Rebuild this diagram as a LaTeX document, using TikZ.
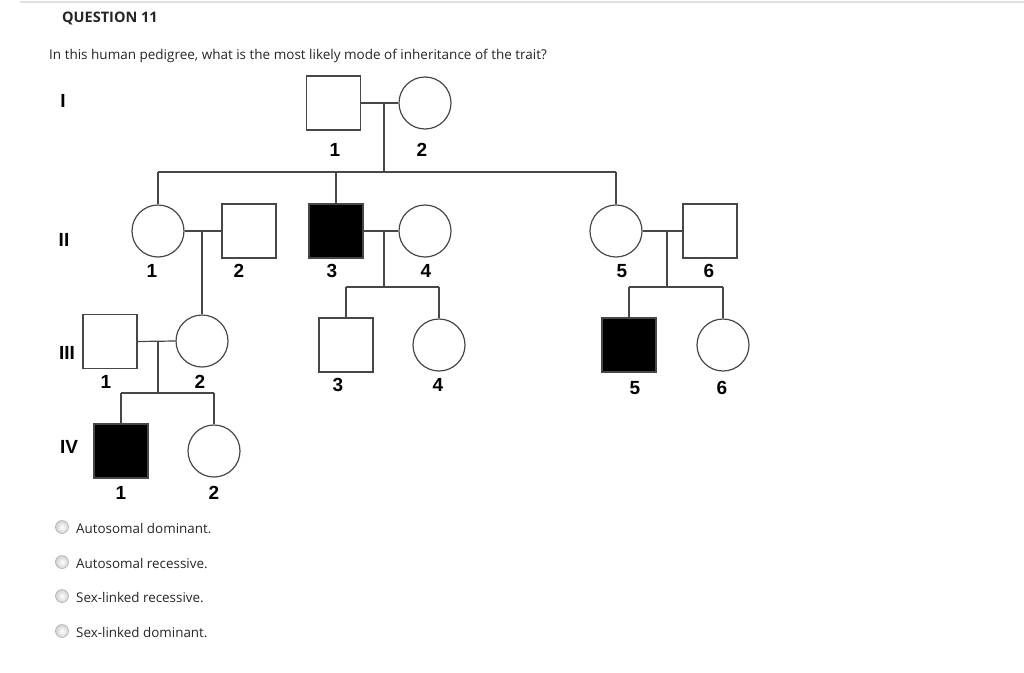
\documentclass[tikz,border=0pt]{standalone}
\usepackage{fontspec}
\setmainfont{Open Sans}
\newfontfamily\lab{Liberation Sans}
\begin{document}
\begin{tikzpicture}[x=1pt,y=-1pt,
  ln/.style={draw=black!72,line width=1.2pt},
  male/.style={rectangle,draw=black!72,line width=1.2pt,minimum size=54pt,inner sep=0pt},
  female/.style={circle,draw=black!72,line width=1.2pt,minimum size=52pt,inner sep=0pt},
  aff/.style={fill=black},
  num/.style={font=\lab\bfseries\fontsize{19}{19}\selectfont,inner sep=0pt},
  gen/.style={font=\lab\bfseries\fontsize{19}{19}\selectfont,inner sep=0pt},
  radio/.style={circle,draw=black!30,inner color=white,outer color=black!18,minimum size=13pt,inner sep=0pt,line width=0.6pt},
  opt/.style={font=\fontsize{13.4}{15}\selectfont,anchor=west,inner sep=0pt,text=black!85},
  pt/.style={coordinate}]
\useasboundingbox (0,0) rectangle (1024,672);
\fill[white] (0,0) rectangle (1024,672);
\draw[black!12,line width=1.5pt] (20,2) -- (1024,2);
\node[anchor=west,inner sep=0pt,font=\bfseries\fontsize{14.5}{16}\selectfont,text=black!85] (q) at (62,18) {QUESTION 11};
\node[anchor=west,inner sep=0pt,font=\fontsize{13.5}{15}\selectfont,text=black!85] (qt) at (49,56) {In this human pedigree, what is the most likely mode of inheritance of the trait?};
% generation labels
\node[gen] (gI) at (63,101) {I};
\node[gen] (gII) at (64,240) {II};
\node[gen] (gIII) at (67,353) {III};
\node[gen] (gIV) at (69,447) {IV};
% generation I
\node[male] (I1) at (333.5,103) {};
\node[female] (I2) at (425,103) {};
\node[num] (nI1) at (335,150) {1};
\node[num] (nI2) at (422,150) {2};
\coordinate (mI) at (384,103);
\coordinate (sI) at (384,172);
\draw[ln] (I1.east) -- (I2.west);
\draw[ln] (mI) -- (sI);
% generation II
\node[female] (II1) at (158,231) {};
\node[male] (II2) at (249,231) {};
\node[male,aff] (II3) at (336,231) {};
\node[female] (II4) at (425,231) {};
\node[female] (II5) at (616,231) {};
\node[male] (II6) at (710,231) {};
\node[num] (nII1) at (152,271) {1};
\node[num] (nII2) at (239,271) {2};
\node[num] (nII3) at (332,271) {3};
\node[num] (nII4) at (426,271) {4};
\node[num] (nII5) at (622,271) {5};
\node[num] (nII6) at (709,271) {6};
\coordinate (sL) at (158,172);
\coordinate (sR) at (616,172);
\draw[ln] (sL) -- (sR);
\draw[ln] (sL) -- (II1.north);
\draw[ln] (II3.north |- sL) -- (II3.north);
\draw[ln] (sR) -- (II5.north);
\draw[ln] (II1.east) -- (II2.west);
\draw[ln] (II3.east) -- (II4.west);
\draw[ln] (II5.east) -- (II6.west);
% generation III
\node[male] (III1) at (110,341.5) {};
\node[female] (III2) at (202,341) {};
\node[male] (III3) at (346,345) {};
\node[female] (III4) at (439,345) {};
\node[male,aff] (III5) at (629,345) {};
\node[female] (III6) at (723,345) {};
\node[num] (nIII1) at (106,382) {1};
\node[num] (nIII2) at (200,382) {2};
\node[num] (nIII3) at (338,385) {3};
\node[num] (nIII4) at (438,385) {4};
\node[num] (nIII5) at (635,388) {5};
\node[num] (nIII6) at (722,388) {6};
\draw[ln] (III2.north |- II1.east) -- (III2.north);
\coordinate (m34) at (384,231);
\coordinate (s34) at (384,287);
\draw[ln] (m34) -- (s34);
\draw[ln] (III3.north |- s34) -- (III4.north |- s34);
\draw[ln] (III3.north |- s34) -- (III3.north);
\draw[ln] (III4.north |- s34) -- (III4.north);
\coordinate (m56) at (667,231);
\coordinate (s56) at (667,287);
\draw[ln] (m56) -- (s56);
\draw[ln] (III5.north |- s56) -- (III6.north |- s56);
\draw[ln] (III5.north |- s56) -- (III5.north);
\draw[ln] (III6.north |- s56) -- (III6.north);
\draw[ln] (III1.east) -- (III2.west);
% generation IV
\node[male,aff] (IV1) at (121,451) {};
\node[female] (IV2) at (214,451) {};
\node[num] (nIV1) at (121,493) {1};
\node[num] (nIV2) at (214,493) {2};
\coordinate (m12) at (158,341);
\coordinate (s12) at (158,393);
\draw[ln] (m12) -- (s12);
\draw[ln] (IV1.north |- s12) -- (IV2.north |- s12);
\draw[ln] (IV1.north |- s12) -- (IV1.north);
\draw[ln] (IV2.north |- s12) -- (IV2.north);
% options
\node[radio] (r1) at (62,527) {};
\node[radio] (r2) at (62,562) {};
\node[radio] (r3) at (62,596) {};
\node[radio] (r4) at (62,631) {};
\node[opt] (o1) at (76,528) {Autosomal dominant.};
\node[opt] (o2) at (76,563) {Autosomal recessive.};
\node[opt] (o3) at (76,597) {Sex-linked recessive.};
\node[opt] (o4) at (76,632) {Sex-linked dominant.};
\end{tikzpicture}
\end{document}
